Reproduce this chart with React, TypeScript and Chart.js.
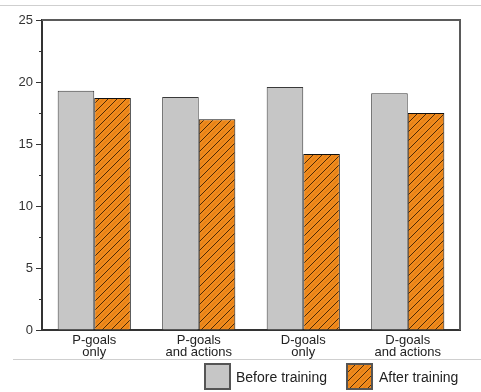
import React, { useEffect, useRef } from 'react';
import { Chart, registerables } from 'chart.js';

Chart.register(...registerables);

const categories: string[][] = [
  ['P-goals', 'only'],
  ['P-goals', 'and actions'],
  ['D-goals', 'only'],
  ['D-goals', 'and actions'],
];
const seriesNames = ['Before training', 'After training'];
const beforeTraining = [19.3, 18.8, 19.6, 19.1];
const afterTraining = [18.7, 17.0, 14.2, 17.5];
const yMin = 0;
const yMax = 25;
const yMajorStep = 5;
const yMinorStep = 2.5;

const FONT = 'Liberation Sans, Arial, Helvetica, sans-serif';

function makeHatch(): CanvasPattern | string {
  const s = 9;
  const c = document.createElement('canvas');
  c.width = s;
  c.height = s;
  const g = c.getContext('2d');
  if (!g) return '#F08A1C';
  g.fillStyle = '#F08A1C';
  g.fillRect(0, 0, s, s);
  // faint secondary texture
  g.strokeStyle = 'rgba(160,80,0,0.3)';
  g.lineWidth = 1;
  g.beginPath();
  g.moveTo(0, s / 2);
  g.lineTo(s / 2, 0);
  g.moveTo(s / 2, s);
  g.lineTo(s, s / 2);
  g.stroke();
  // main dark hatch
  g.strokeStyle = 'rgba(20,10,0,0.75)';
  g.lineWidth = 1;
  g.beginPath();
  g.moveTo(-1, s + 1);
  g.lineTo(s + 1, -1);
  g.moveTo(-1, 1);
  g.lineTo(1, -1);
  g.moveTo(s - 1, s + 1);
  g.lineTo(s + 1, s - 1);
  g.stroke();
  const p = g.createPattern(c, 'repeat');
  return p || '#F08A1C';
}

const framePlugin = {
  id: 'frameAndTicks',
  afterDraw(chart: any) {
    const ctx = chart.ctx as CanvasRenderingContext2D;
    const { left, right, top, bottom } = chart.chartArea;
    const y = chart.scales.y;
    ctx.save();
    // separators
    ctx.strokeStyle = '#cfcfcf';
    ctx.lineWidth = 1;
    ctx.beginPath();
    ctx.moveTo(0, 5.5);
    ctx.lineTo(chart.width, 5.5);
    ctx.moveTo(13, 359.5);
    ctx.lineTo(chart.width, 359.5);
    ctx.stroke();
    // top and right frame
    ctx.strokeStyle = '#5a5a5a';
    ctx.lineWidth = 2;
    ctx.beginPath();
    ctx.moveTo(left, top);
    ctx.lineTo(right, top);
    ctx.lineTo(right, bottom);
    ctx.stroke();
    // y tick marks (major + minor)
    ctx.strokeStyle = '#333';
    ctx.lineWidth = 1;
    for (let v = yMin; v <= yMax + 1e-9; v += yMinorStep) {
      const py = Math.round(y.getPixelForValue(v)) + 0.5;
      const major = Math.abs(v / yMajorStep - Math.round(v / yMajorStep)) < 1e-6;
      const len = major ? 6 : 3;
      ctx.beginPath();
      ctx.moveTo(left - len, py);
      ctx.lineTo(left, py);
      ctx.stroke();
    }
    // legend
    const ds = chart.data.datasets;
    const boxes = [
      { x: 205, textX: 236 },
      { x: 347, textX: 379 },
    ];
    ds.forEach((d: any, i: number) => {
      const b = boxes[i];
      if (!b) return;
      ctx.fillStyle = d.backgroundColor;
      ctx.fillRect(b.x, 364, 25, 25);
      ctx.strokeStyle = '#555';
      ctx.lineWidth = 2;
      ctx.strokeRect(b.x, 364, 25, 25);
      ctx.fillStyle = '#222';
      ctx.font = `14px ${FONT}`;
      ctx.textBaseline = 'middle';
      ctx.textAlign = 'left';
      ctx.fillText(d.label, b.textX, 378);
    });
    ctx.restore();
  },
};

export default function App() {
  const ref = useRef<HTMLCanvasElement | null>(null);

  useEffect(() => {
    document.body.style.margin = '0';
    const canvas = ref.current;
    if (!canvas) return;
    const hatch = makeHatch();
    const chart = new Chart(canvas, {
      type: 'bar',
      data: {
        labels: categories as any,
        datasets: [
          {
            label: seriesNames[0],
            data: beforeTraining,
            backgroundColor: '#C6C6C6',
            borderColor: '#3a3a3a',
            borderWidth: 1,
            categoryPercentage: 0.7,
            barPercentage: 1.0,
          },
          {
            label: seriesNames[1],
            data: afterTraining,
            backgroundColor: hatch as any,
            borderColor: '#111',
            borderWidth: 1,
            categoryPercentage: 0.7,
            barPercentage: 1.0,
          },
        ],
      },
      options: {
        animation: false,
        responsive: true,
        maintainAspectRatio: false,
        layout: { padding: { left: 0, top: 20, right: 21, bottom: 33 } },
        plugins: {
          legend: { display: false },
          tooltip: { enabled: false },
        },
        scales: {
          x: {
            grid: { display: false, drawTicks: false, tickLength: 0 },
            border: { display: true, color: '#333', width: 2 },
            ticks: {
              color: '#222',
              font: { family: FONT, size: 13, lineHeight: 0.9 },
              padding: 5,
              maxRotation: 0,
              autoSkip: false,
            },
            afterFit: (s: any) => {
              s.height = 29;
            },
          },
          y: {
            min: yMin,
            max: yMax,
            grid: {
              display: true,
              drawOnChartArea: false,
              drawTicks: true,
              tickLength: 6,
              tickColor: 'rgba(0,0,0,0)',
            },
            border: { display: true, color: '#333', width: 2 },
            ticks: {
              stepSize: yMinorStep,
              color: '#333',
              padding: 3,
              font: { family: FONT, size: 13 },
              callback: (v: any) => {
                const n = Number(v);
                return Math.abs(n / yMajorStep - Math.round(n / yMajorStep)) < 1e-6 ? String(n) : '';
              },
            },
            afterFit: (s: any) => {
              s.width = 42;
            },
          },
        },
      },
      plugins: [framePlugin],
    });
    return () => chart.destroy();
  }, []);

  return (
    <div style={{ position: 'fixed', left: 0, top: 0, width: 481, height: 392, background: '#fff' }}>
      <canvas ref={ref} />
    </div>
  );
}
